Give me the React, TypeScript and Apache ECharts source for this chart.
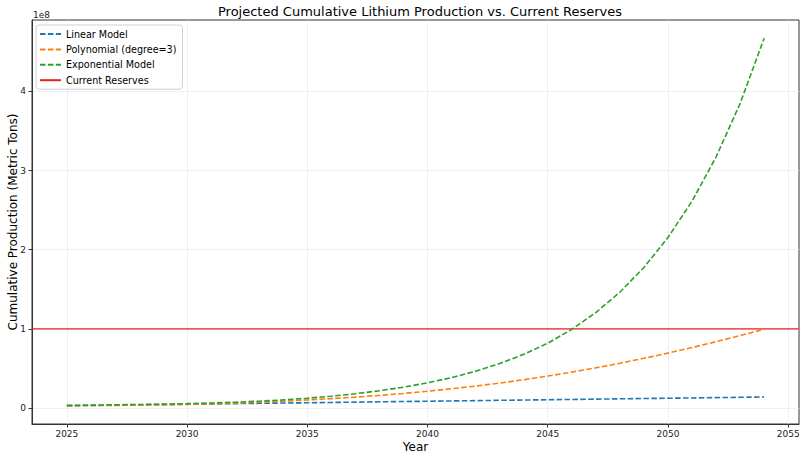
import React, { useEffect, useRef } from "react";
import * as echarts from "echarts";

const years = [2025, 2026, 2027, 2028, 2029, 2030, 2031, 2032, 2033, 2034, 2035, 2036, 2037, 2038, 2039, 2040, 2041, 2042, 2043, 2044, 2045, 2046, 2047, 2048, 2049, 2050, 2051, 2052, 2053, 2054];

const linearModel = [0.030, 0.034, 0.038, 0.042, 0.046, 0.049, 0.053, 0.057, 0.061, 0.065, 0.068, 0.072, 0.076, 0.080, 0.084, 0.087, 0.091, 0.095, 0.099, 0.103, 0.106, 0.110, 0.114, 0.118, 0.122, 0.125, 0.129, 0.133, 0.137, 0.141].map((v) => v * 1e8);

const polynomialModel = [0.032, 0.033, 0.035, 0.038, 0.042, 0.048, 0.055, 0.064, 0.075, 0.088, 0.103, 0.120, 0.139, 0.161, 0.186, 0.214, 0.245, 0.279, 0.317, 0.359, 0.405, 0.455, 0.509, 0.567, 0.629, 0.695, 0.765, 0.839, 0.916, 0.996].map((v) => v * 1e8);

const exponentialModel = [0.035, 0.038, 0.042, 0.046, 0.051, 0.057, 0.065, 0.075, 0.088, 0.104, 0.125, 0.151, 0.182, 0.220, 0.265, 0.320, 0.386, 0.466, 0.563, 0.679, 0.820, 0.995, 1.207, 1.464, 1.776, 2.154, 2.613, 3.170, 3.845, 4.670].map((v) => v * 1e8);

const currentReserves = 1e8;

const xTicks = [2025, 2030, 2035, 2040, 2045, 2050, 2055];
const yTicks = [0, 1e8, 2e8, 3e8, 4e8];

const X_MIN = 2023.55;
const X_MAX = 2055.45;
const Y_MIN = -0.2e8;
const Y_MAX = 4.9e8;

const FONT = "DejaVu Sans";

export default function App() {
  const ref = useRef<HTMLDivElement>(null);

  useEffect(() => {
    if (!ref.current) return;
    const chart = echarts.init(ref.current, null, { renderer: "svg" });
    const dash = [5.5, 2.4];
    const pairs = (vals: number[]) => years.map((y, i) => [y, vals[i]]);
    chart.setOption({
      animation: false,
      backgroundColor: "#ffffff",
      textStyle: { fontFamily: FONT },
      title: {
        text: "Projected Cumulative Lithium Production vs. Current Reserves",
        left: 415,
        textAlign: "center",
        top: 0,
        textStyle: { fontFamily: FONT, fontSize: 13, fontWeight: "normal", color: "#000" },
      },
      grid: {
        left: 32,
        right: 7,
        top: 20,
        bottom: 34,
        containLabel: false,
        outerBoundsMode: "none",
        show: true,
        borderColor: "#333",
        borderWidth: 1,
        backgroundColor: "transparent",
      },
      legend: {
        orient: "vertical",
        left: 36,
        top: 25,
        itemWidth: 21,
        itemHeight: 10,
        itemGap: 5.4,
        padding: [4, 6, 4, 3],
        backgroundColor: "rgba(255,255,255,0.8)",
        borderColor: "#d0d0d0",
        borderWidth: 1,
        borderRadius: 3,
        itemStyle: { opacity: 0 },
        textStyle: { fontFamily: FONT, fontSize: 9.6, color: "#000" },
        data: ["Linear Model", "Polynomial (degree=3)", "Exponential Model", "Current Reserves"],
      },
      xAxis: {
        type: "value",
        min: X_MIN,
        max: X_MAX,
        name: "Year",
        nameLocation: "middle",
        nameGap: 17,
        nameMoveOverlap: false,
        nameTextStyle: { fontFamily: FONT, fontSize: 12, color: "#000" },
        axisLine: { show: true, onZero: false, lineStyle: { color: "#333" } },
        axisTick: { show: true, inside: false, length: 3.5, customValues: xTicks, lineStyle: { color: "#333" } },
        axisLabel: {
          customValues: xTicks,
          fontSize: 9,
          color: "#222",
          margin: 5,
          fontFamily: FONT,
          formatter: (v: number) => String(Math.round(v)),
        },
        splitLine: { show: true, lineStyle: { color: "#ebebeb", width: 0.8 } },
      },
      yAxis: {
        type: "value",
        min: Y_MIN,
        max: Y_MAX,
        name: "Cumulative Production (Metric Tons)",
        nameLocation: "middle",
        nameGap: 13,
        nameMoveOverlap: false,
        nameTextStyle: { fontFamily: FONT, fontSize: 12, color: "#000" },
        axisLine: { show: true, onZero: false, lineStyle: { color: "#333" } },
        axisTick: { show: true, inside: false, length: 3.5, customValues: yTicks, lineStyle: { color: "#333" } },
        axisLabel: {
          customValues: yTicks,
          fontSize: 9,
          color: "#222",
          margin: 6,
          fontFamily: FONT,
          formatter: (v: number) => String(Math.round(v / 1e8)),
        },
        splitLine: { show: true, lineStyle: { color: "#ebebeb", width: 0.8 } },
      },
      graphic: [
        {
          type: "text",
          left: 33,
          top: 10,
          style: { text: "1e8", font: `9px "${FONT}"`, fill: "#222" },
        },
      ],
      series: [
        {
          name: "Current Reserves",
          type: "line",
          data: [
            [X_MIN, currentReserves],
            [X_MAX, currentReserves],
          ],
          showSymbol: false,
          symbol: "none",
          itemStyle: { color: "#f21d1d" },
          lineStyle: { color: "#f21d1d", width: 1.2, type: "solid" },
        },
        {
          name: "Linear Model",
          type: "line",
          data: pairs(linearModel),
          showSymbol: false,
          symbol: "none",
          itemStyle: { color: "#1f77b4" },
          lineStyle: { color: "#1f77b4", width: 1.6, type: dash },
        },
        {
          name: "Polynomial (degree=3)",
          type: "line",
          data: pairs(polynomialModel),
          showSymbol: false,
          symbol: "none",
          itemStyle: { color: "#ff7f0e" },
          lineStyle: { color: "#ff7f0e", width: 1.6, type: dash },
        },
        {
          name: "Exponential Model",
          type: "line",
          data: pairs(exponentialModel),
          showSymbol: false,
          symbol: "none",
          itemStyle: { color: "#2ca02c" },
          lineStyle: { color: "#2ca02c", width: 1.6, type: dash },
        },
      ],
    });
    return () => chart.dispose();
  }, []);

  return (
    <div
      style={{
        position: "absolute",
        left: 0,
        top: 0,
        width: 806,
        height: 458,
        boxSizing: "border-box",
        border: "2px solid #3a3a3a",
        background: "#fff",
      }}
    >
      <div ref={ref} style={{ position: "absolute", left: -2, top: -2, width: 806, height: 458 }} />
    </div>
  );
}
